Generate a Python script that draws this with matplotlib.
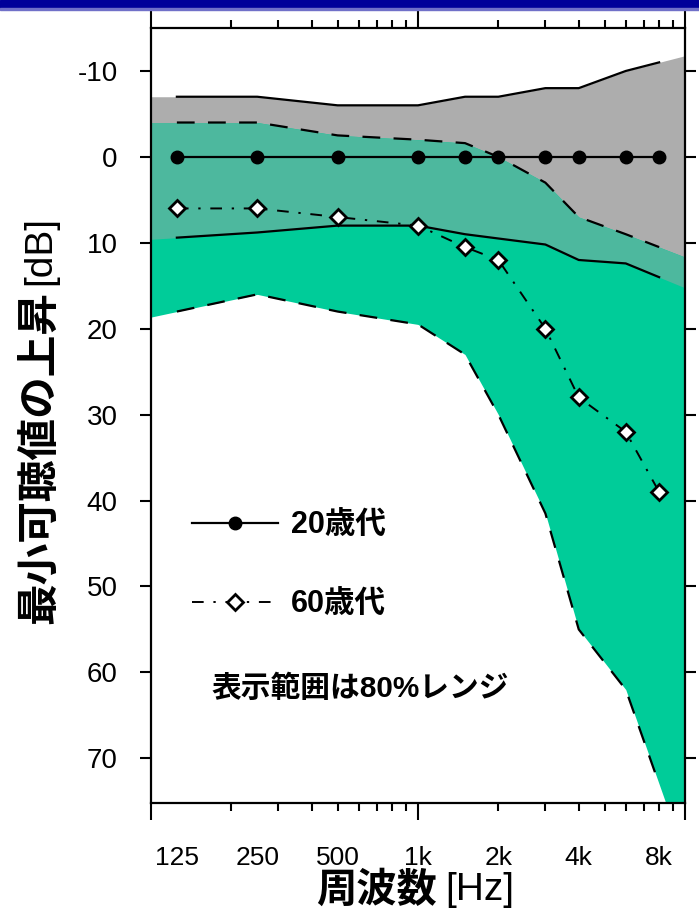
import numpy as np
import matplotlib
matplotlib.use("Agg")
import matplotlib.pyplot as plt
from matplotlib.patches import Rectangle
from matplotlib.ticker import FixedLocator, NullLocator, NullFormatter

plt.rcParams['font.family'] = ['Liberation Sans', 'Noto Sans CJK JP', 'DejaVu Sans']

# ---------------- data ----------------
freqs = [125, 250, 500, 1000, 1500, 2000, 3000, 4000, 6000, 8000]
mean_20s = [0, 0, 0, 0, 0, 0, 0, 0, 0, 0]
mean_60s = [6, 6, 7, 8, 10.5, 12, 20, 28, 32, 39]
upper_20s = [-7, -7, -6, -6, -7, -7, -8, -8, -10, -11]
lower_20s = [9.4, 8.8, 8, 8, 9, 9.5, 10.2, 12, 12.4, 14]
upper_60s = [-4, -4, -2.5, -2, -1.6, 0, 3, 7, 9, 10.5]
lower_60s = [18, 16, 18, 19.5, 23, 30, 41.5, 55, 62, 73]

label_freqs = [125, 250, 500, 1000, 2000, 4000, 8000]
label_texts = ['125', '250', '500', '1k', '2k', '4k', '8k']
yticks = [-10, 0, 10, 20, 30, 40, 50, 60, 70]

GREY = '#ADADAD'
TEAL = '#00CC99'
MIX = '#4DB89E'

W, H = 699, 913
fig = plt.figure(figsize=(W / 100, H / 100), dpi=100)
# slide header band
fig.patches.append(Rectangle((0, 1 - 8 / H), 1, 8 / H, transform=fig.transFigure,
                             color='#000099', zorder=0))
fig.patches.append(Rectangle((0, 1 - 10 / H), 1, 2 / H, transform=fig.transFigure,
                             color='#7070C8', zorder=0))

L, R, T, B = 151, 685, 28, 803
ax = fig.add_axes([L / W, 1 - B / H, (R - L) / W, (B - T) / H])
ax.set_xscale('log')
ax.set_xlim(100, 10000)
ax.set_ylim(75.2, -15)


def extend(fq, vals, fg):
    lx = np.log2(fq)
    lg = np.log2(fg)
    v = np.asarray(vals, float)
    y = np.interp(lg, lx, v)
    lo = lg < lx[0]
    hi = lg > lx[-1]
    y[lo] = v[0] + (v[1] - v[0]) / (lx[1] - lx[0]) * (lg[lo] - lx[0])
    y[hi] = v[-1] + (v[-1] - v[-2]) / (lx[-1] - lx[-2]) * (lg[hi] - lx[-1])
    return y


fg = np.logspace(2, 4, 1200)
u20 = extend(freqs, upper_20s, fg)
l20 = extend(freqs, lower_20s, fg)
u60 = extend(freqs, upper_60s, fg)
l60 = extend(freqs, lower_60s, fg)

ax.fill_between(fg, u20, l20, color=GREY, lw=0, zorder=1)
ax.fill_between(fg, u60, l60, color=TEAL, lw=0, zorder=1.5)
ot = np.maximum(u20, u60)
ob = np.minimum(l20, l60)
ax.fill_between(fg, ot, ob, where=ob > ot, interpolate=True, color=MIX, lw=0, zorder=2)

# range boundary lines
ax.plot(freqs, upper_20s, color='k', lw=1.6, zorder=3)
ax.plot(freqs, lower_20s, color='k', lw=1.6, zorder=3)
ax.plot(freqs, upper_60s, color='k', lw=1.6, dashes=(8, 6), zorder=3)
ax.plot(freqs, lower_60s, color='k', lw=1.6, dashes=(8, 6), zorder=3)

# mean lines
h20, = ax.plot(freqs, mean_20s, color='k', lw=1.6, marker='o', ms=9,
               mfc='k', mec='k', zorder=5, label='20歳代')
h60, = ax.plot(freqs, mean_60s, color='k', lw=1.4, dashes=(6, 5, 1.2, 5),
               marker='D', ms=8, mfc='white', mec='k', mew=2, zorder=5,
               label='60歳代')

leg = ax.legend(handles=[h20, h60], loc='upper left', bbox_to_anchor=(0.077, 0.377),
                frameon=False, handlelength=2.8, handletextpad=0.42,
                labelspacing=1.6, borderpad=0, borderaxespad=0,
                prop={'size': 22, 'weight': 'bold'})

ax.text(0.114, 0.148, '表示範囲は80%レンジ', transform=ax.transAxes,
        ha='left', va='center', fontsize=21.4, fontweight='bold')

# axes styling
for s in ax.spines.values():
    s.set_linewidth(1.6)
ax.set_yticks(yticks)
ax.set_yticklabels([str(v) for v in yticks])
ax.tick_params(axis='y', which='both', direction='out', left=True, right=True,
               length=8, width=1.5, pad=16, labelsize=20)

ax.xaxis.set_major_locator(FixedLocator([100, 1000, 10000]))
ax.xaxis.set_minor_locator(FixedLocator([m * d for d in (100, 1000) for m in range(2, 10)]))
ax.xaxis.set_major_formatter(NullFormatter())
ax.xaxis.set_minor_formatter(NullFormatter())
ax.tick_params(axis='x', which='major', direction='out', top=True, bottom=True,
               length=12, width=1.5)
ax.tick_params(axis='x', which='minor', direction='out', top=True, bottom=True,
               length=5.5, width=1.5)

sec = ax.secondary_xaxis('bottom')
sec.xaxis.set_major_locator(FixedLocator(label_freqs))
sec.xaxis.set_minor_locator(NullLocator())
sec.set_xticklabels(label_texts)
sec.tick_params(axis='x', length=0, pad=31, labelsize=19)
sec.spines['bottom'].set_visible(False)

# axis titles
fig.text(437 / W, 1 - 890 / H, '周波数', ha='right', va='center',
         fontsize=29, fontweight='bold')
fig.text(445 / W, 1 - 890 / H, '[Hz]', ha='left', va='center', fontsize=28)
fig.text(40 / W, 1 - 624 / H, '最小可聴値の上昇', rotation=90, ha='center',
         va='bottom', fontsize=30, fontweight='bold')
fig.text(40 / W, 1 - 285 / H, '[dB]', rotation=90, ha='center', va='bottom',
         fontsize=28)

fig.savefig('out.png', dpi=100)
